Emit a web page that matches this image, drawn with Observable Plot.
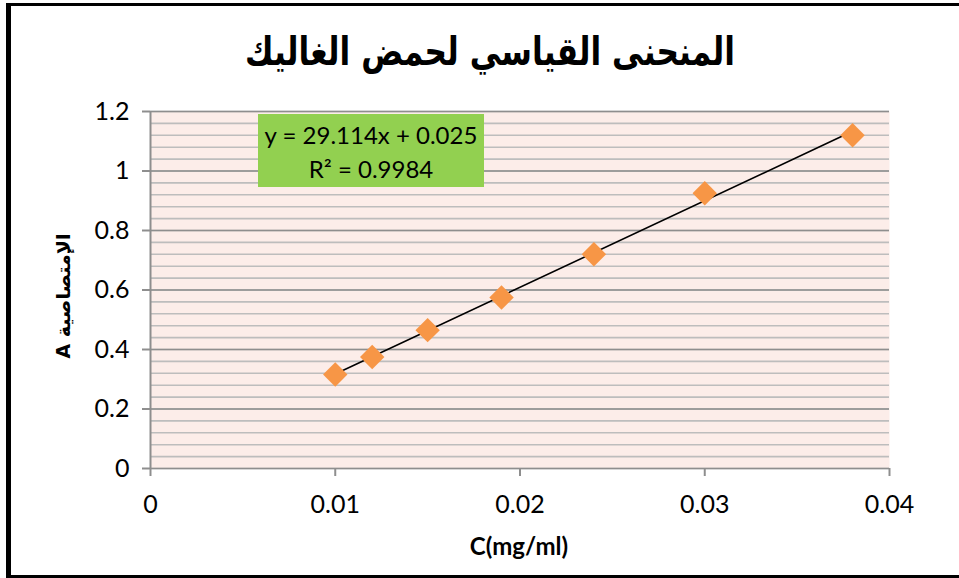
<!DOCTYPE html>
<html>
<head>
<meta charset="utf-8">
<script src="https://cdn.jsdelivr.net/npm/d3@7"></script>
<script src="https://cdn.jsdelivr.net/npm/@observablehq/plot@0.6"></script>
<style>
  html, body { margin: 0; padding: 0; background: #fff; }
  #wrap { position: relative; width: 959px; height: 578px; overflow: hidden; background: #fff; }
  #wrap svg { position: absolute; left: 0; top: 0; }
  .bl { position: absolute; background: #000; }
  #title { position: absolute; left: 490px; top: 51px; transform: translate(-50%, -50%) scaleX(0.8); white-space: nowrap;
    font-family: "DejaVu Sans", sans-serif; font-weight: bold; font-size: 39px; color: #000; direction: rtl; }
  #eq { position: absolute; left: 258px; top: 114px; width: 226px; height: 73px; background: #92D050;
    font-family: Lato, "Open Sans", sans-serif; font-size: 24px; color: #000; text-align: center; line-height: 34px; padding-top: 4px; box-sizing: border-box; }
  #ylab { position: absolute; left: 63px; top: 296px; transform: translate(-50%, -50%) rotate(-90deg);
    font-family: "DejaVu Sans", sans-serif; font-weight: bold; font-size: 19px; white-space: nowrap; direction: ltr; }
  #xlab { position: absolute; left: 519px; top: 545px; transform: translate(-50%, -50%);
    font-family: Lato, "Open Sans", sans-serif; font-weight: bold; font-size: 24px; white-space: nowrap; }
</style>
</head>
<body>
<div id="wrap">
  <div id="title">المنحنى القياسي لحمض الغاليك</div>
  <div id="ylab">A الإمتصاصية</div>
  <div id="xlab">C(mg/ml)</div>
</div>
<script>
// Data
const concentration = [0.010, 0.012, 0.015, 0.019, 0.024, 0.030, 0.038];
const absorbance    = [0.316, 0.375, 0.465, 0.575, 0.720, 0.925, 1.120];
const xTicks = [0, 0.01, 0.02, 0.03, 0.04];
const yTicks = [0, 0.2, 0.4, 0.6, 0.8, 1, 1.2];
const equationText = "y = 29.114x + 0.025";
const r2Text = "R² = 0.9984";

const data = concentration.map((c, i) => ({C: c, A: absorbance[i]}));
const yMinor = d3.range(0, 1.2001, 0.04).map(v => +v.toFixed(2));

const chart = Plot.plot({
  width: 959,
  height: 578,
  marginLeft: 150,
  marginRight: 70,
  marginTop: 111,
  marginBottom: 110,
  x: {domain: [0, 0.04]},
  y: {domain: [0, 1.2]},
  style: {fontFamily: "Lato, 'Open Sans', sans-serif", fontSize: "25px", color: "#000", background: "transparent", overflow: "visible"},
  marks: [
    Plot.frame({fill: "#fcede9", stroke: null}),
    Plot.ruleY(yMinor, {stroke: "#bdbdbd", strokeWidth: 1.6}),
    Plot.ruleY(yTicks, {stroke: "#8e8e8e", strokeWidth: 1.6}),
    Plot.ruleX([0], {stroke: "#8e8e8e", strokeWidth: 2}),
    Plot.axisY({ticks: yTicks, tickSize: 8, tickPadding: 13, label: null, stroke: "#8e8e8e", strokeWidth: 2, fontSize: 25, tickFormat: d => String(d)}),
    Plot.axisX({ticks: xTicks, tickSize: 8, tickPadding: 19, label: null, stroke: "#8e8e8e", strokeWidth: 2, fontSize: 25, tickFormat: d => String(d)}),
    Plot.linearRegressionY(data, {x: "C", y: "A", stroke: "#000", strokeWidth: 1.6, ci: 0}),
    Plot.dot(data, {x: "C", y: "A", symbol: "diamond2", r: 11, fill: "#F79646", stroke: null})
  ]
});
const wrap = document.getElementById("wrap");
wrap.insertBefore(chart, wrap.firstChild);

const eq = document.createElement("div");
eq.id = "eq";
eq.innerHTML = equationText + "<br>" + r2Text;
wrap.appendChild(eq);

// outer frame lines
[["left:6px;top:3px;width:5px;height:575px"], ["left:6px;top:3px;width:953px;height:3px"], ["left:6px;top:575px;width:953px;height:3px"]]
  .forEach(([s]) => { const d = document.createElement("div"); d.className = "bl"; d.style.cssText = s; wrap.appendChild(d); });
</script>
</body>
</html>
